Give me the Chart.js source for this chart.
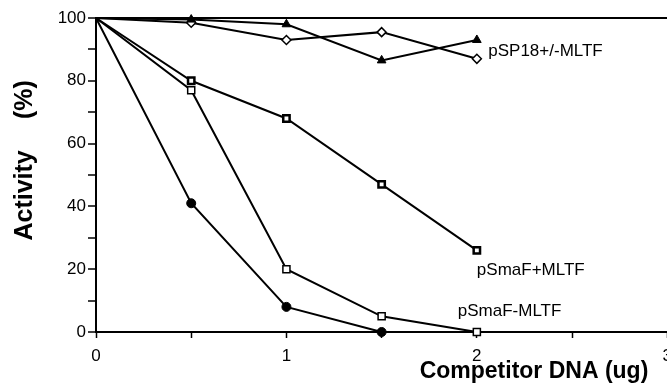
<!DOCTYPE html>
<html>
<head>
<meta charset="UTF-8">
<title>Activity vs competitor DNA</title>
<script src="https://cdn.jsdelivr.net/npm/chart.js"></script>
<style>
  html, body { margin: 0; padding: 0; background: #fff; overflow: hidden; }
</style>
</head>
<body>
<canvas id="chart" width="680" height="383"></canvas>
<script>
// competitor DNA amounts (ug)
const doses = [0, 0.5, 1, 1.5, 2];
const dosesCircle = [0, 0.5, 1, 1.5];

// activity (%) per series
const filledCircle = [100, 41, 8, 0];
const openSquare = [100, 77, 20, 5, 0];        // pSmaF-MLTF
const dotSquare = [100, 80, 68, 47, 26];       // pSmaF+MLTF
const triangle = [100, 99.5, 98, 86.5, 93];    // pSP18+/-MLTF
const diamond = [100, 98.5, 93, 95.5, 87];     // pSP18+/-MLTF

// curve labels and where they sit (data units: left edge, middle)
const labelTexts = ['pSP18+/-MLTF', 'pSmaF+MLTF', 'pSmaF-MLTF'];
const labelX = [2.06, 2.0, 1.9];
const labelY = [89.5, 19.5, 6.7];

const xTitle = 'Competitor DNA (ug)';
const yTitleA = 'Activity';
const yTitleB = '(%)';

function pts(xs, ys) {
  return ys.map((y, i) => ({ x: xs[i], y: y }));
}

function series(data, style, radius, fill, bw) {
  return {
    data: data,
    showLine: true,
    borderColor: '#000',
    borderWidth: 2,
    pointStyle: style,
    // no marker at the common starting point (0, 100)
    pointRadius: data.map(p => p.x === 0 ? 0 : radius),
    pointBackgroundColor: fill,
    pointBorderColor: '#000',
    pointBorderWidth: bw,
    clip: false
  };
}

// text labels + axis titles
const textPlugin = {
  id: 'texts',
  afterDraw(c) {
    const ctx = c.ctx, xs = c.scales.x, ys = c.scales.y;
    ctx.save();
    ctx.fillStyle = '#000';
    ctx.font = '17px "Liberation Sans", Arial, sans-serif';
    ctx.textAlign = 'left';
    ctx.textBaseline = 'middle';
    labelTexts.forEach((t, i) => {
      ctx.fillText(t, xs.getPixelForValue(labelX[i]), ys.getPixelForValue(labelY[i]));
    });

    ctx.font = 'bold 23px "Liberation Sans", Arial, sans-serif';
    ctx.textAlign = 'center';
    ctx.fillText(xTitle, xs.getPixelForValue(2.3), 372);

    ctx.font = 'bold 25px "Liberation Sans", Arial, sans-serif';
    ctx.translate(25, 0);
    ctx.rotate(-Math.PI / 2);
    ctx.fillText(yTitleA, -ys.getPixelForValue(43.5), 0);
    ctx.fillText(yTitleB, -ys.getPixelForValue(74), 0);
    ctx.restore();
  }
};

new Chart(document.getElementById('chart'), {
  type: 'scatter',
  data: {
    datasets: [
      series(pts(dosesCircle, filledCircle), 'circle', 4.5, '#000', 1),
      series(pts(doses, openSquare), 'rect', 5, '#fff', 1.5),
      series(pts(doses, dotSquare), 'rect', 4.5, '#fff', 2.5),
      series(pts(doses, triangle), 'triangle', 5, '#000', 1),
      series(pts(doses, diamond), 'rectRot', 4.5, '#fff', 1.5)
    ]
  },
  plugins: [textPlugin],
  options: {
    responsive: false,
    animation: false,
    layout: { padding: { top: 18, right: 10, left: 0, bottom: 0 } },
    plugins: { legend: { display: false }, tooltip: { enabled: false } },
    scales: {
      x: {
        type: 'linear',
        min: 0,
        max: 3,
        afterFit(s) { s.height = 51; },
        border: { color: '#000', width: 2 },
        grid: { drawOnChartArea: false, tickLength: 6, tickColor: '#000', tickWidth: 1.5 },
        ticks: {
          stepSize: 0.5,
          padding: 8,
          color: '#000',
          maxRotation: 0,
          font: { family: '"Liberation Sans", Arial, sans-serif', size: 17 },
          callback: v => Number.isInteger(v) ? String(v) : ''
        }
      },
      y: {
        min: 0,
        max: 100,
        afterFit(s) { s.width = 96; },
        border: { color: '#000', width: 2 },
        grid: {
          drawOnChartArea: true,
          color: ctx => ctx.tick && ctx.tick.value === 100 ? '#000' : 'rgba(0,0,0,0)',
          lineWidth: 2,
          tickLength: 8,
          tickColor: '#000',
          tickWidth: 1.5
        },
        ticks: {
          stepSize: 10,
          padding: 2,
          color: '#000',
          font: { family: '"Liberation Sans", Arial, sans-serif', size: 17 },
          callback: v => v % 20 === 0 ? String(v) : ''
        }
      }
    }
  }
});
</script>
</body>
</html>
